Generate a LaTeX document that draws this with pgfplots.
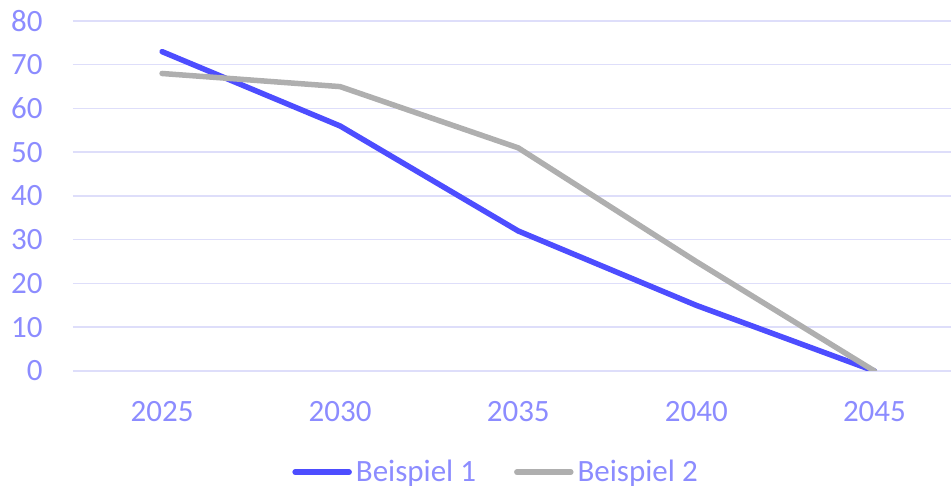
\documentclass[border=0pt]{standalone}
\usepackage{fontspec}
\setmainfont{Carlito}
\usepackage{pgfplots}
\pgfplotsset{compat=1.18}
\definecolor{txt}{HTML}{8C8CFF}
\definecolor{grd}{HTML}{DEDEFA}
\definecolor{ser1}{HTML}{4D4DFF}
\definecolor{ser2}{HTML}{AFAFAF}
\begin{document}
\begin{tikzpicture}[x=1pt,y=1pt]
\useasboundingbox (0,0) rectangle (475.5,245);
\begin{axis}[
  at={(36.5pt,59.5pt)}, anchor=south west,
  scale only axis, width=439pt, height=175pt,
  xmin=-0.5, xmax=4.43, ymin=0, ymax=80,
  ytick={0,10,...,80},
  xtick={0,1,2,3,4},
  xticklabels={2025,2030,2035,2040,2045},
  axis line style={draw=none},
  major tick length=0pt,
  ymajorgrids,
  grid style={grd, line width=0.75pt},
  /pgf/number format/assume math mode=true,
  tick label style={font=\fontsize{15.5}{18}\selectfont, text=txt},
  yticklabel style={anchor=east, inner sep=0pt, xshift=-15pt},
  xticklabel style={anchor=north, inner sep=0pt, yshift=-15pt},
  legend style={at={(0.483,-0.289)}, anchor=center, draw=none, fill=none,
    legend columns=2, font=\fontsize{15.5}{18}\selectfont, text=txt,
    /tikz/every even column/.append style={column sep=17pt},
    inner sep=0pt, cells={anchor=west}},
  legend image code/.code={\draw[#1,line cap=round] (0pt,0pt) -- (27pt,0pt);},
]
\addplot[ser1, line width=2.75pt, line cap=round, line join=round] coordinates {
  (0,73) (1,56) (2,32) (3,15) (4,0)};
\addlegendentry{Beispiel 1}
\addplot[ser2, line width=2.75pt, line cap=round, line join=round] coordinates {
  (0,68) (1,65) (2,51) (3,25) (4,0)};
\addlegendentry{Beispiel 2}
\end{axis}
\end{tikzpicture}
\end{document}
